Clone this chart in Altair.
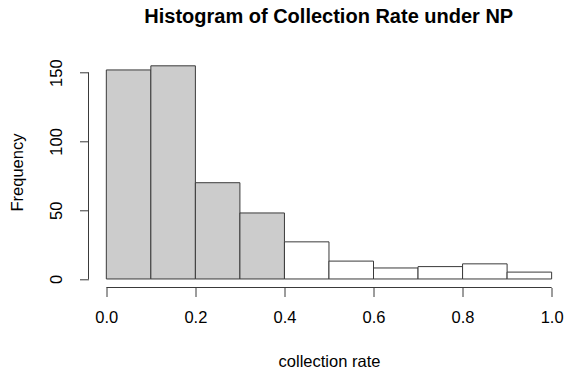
import altair as alt
import pandas as pd

# ---- data ----
bin_lo = [0.0, 0.1, 0.2, 0.3, 0.4, 0.5, 0.6, 0.7, 0.8, 0.9]
bin_hi = [0.1, 0.2, 0.3, 0.4, 0.5, 0.6, 0.7, 0.8, 0.9, 1.0]
counts = [152, 155, 70, 48, 27, 13, 8, 9, 11, 5]
shaded = ["yes", "yes", "yes", "yes", "no", "no", "no", "no", "no", "no"]
x_ticks = [0.0, 0.2, 0.4, 0.6, 0.8, 1.0]
y_ticks = [0, 50, 100, 150]

title_text = "Histogram of Collection Rate under NP"
x_title = "collection rate"
y_title = "Frequency"

df = pd.DataFrame({"lo": bin_lo, "hi": bin_hi, "count": counts, "shaded": shaded})
xaxis_df = pd.DataFrame({"a": [min(x_ticks)], "b": [max(x_ticks)]})
yaxis_df = pd.DataFrame({"a": [min(y_ticks)], "b": [max(y_ticks)]})

FONT = "Liberation Sans"
W = 476.5
H = 230.2
AX = "#3a3a3a"

xscale = alt.Scale(domain=[-0.04, 1.03], nice=False, zero=False)
yscale = alt.Scale(domain=[-6.2, 161.2], nice=False, zero=False)

x_axis = alt.Axis(
    values=x_ticks,
    format=".1f",
    domain=False,
    grid=False,
    tickSize=9,
    tickColor=AX,
    tickWidth=1,
    labelFont=FONT,
    labelFontSize=16.5,
    labelColor="black",
    labelPadding=13,
    labelFlush=False,
    labelOverlap=False,
    title=x_title,
    titleFont=FONT,
    titleFontSize=16.5,
    titleFontWeight="normal",
    titleColor="black",
    titleBaseline="alphabetic",
    titleX=240.5,
    titleY=79,
)

y_axis = alt.Axis(
    values=y_ticks,
    domain=False,
    grid=False,
    tickSize=9,
    tickColor=AX,
    tickWidth=1,
    labelFont=FONT,
    labelFontSize=16.5,
    labelColor="black",
    labelAngle=270,
    labelAlign="center",
    labelBaseline="alphabetic",
    labelPadding=18,
    labelFlush=False,
    labelOverlap=False,
    title=y_title,
    titleFont=FONT,
    titleFontSize=16.5,
    titleFontWeight="normal",
    titleColor="black",
    titleAngle=270,
    titleAlign="center",
    titleBaseline="alphabetic",
    titleX=-66,
    titleY=114.7,
)

bars = alt.Chart(df).mark_bar(stroke=AX, strokeWidth=1).encode(
    x=alt.X("lo:Q", scale=xscale, axis=x_axis),
    x2="hi:Q",
    y=alt.Y("count:Q", scale=yscale, axis=y_axis),
    y2=alt.datum(0),
    fill=alt.Color(
        "shaded:N",
        scale=alt.Scale(domain=["yes", "no"], range=["#cccccc", "#ffffff"]),
        legend=None,
    ),
)

x_line = alt.Chart(xaxis_df).mark_rule(color=AX, strokeWidth=1).encode(
    x=alt.X("a:Q", scale=xscale, axis=x_axis),
    x2="b:Q",
    y=alt.value(H),
)

y_line = alt.Chart(yaxis_df).mark_rule(color=AX, strokeWidth=1).encode(
    y=alt.Y("a:Q", scale=yscale, axis=y_axis),
    y2="b:Q",
    x=alt.value(0),
)

chart = (
    alt.layer(bars, x_line, y_line)
    .properties(
        width=W,
        height=H,
        title=alt.TitleParams(
            text=title_text,
            font=FONT,
            fontSize=20,
            fontWeight="bold",
            color="black",
            anchor="middle",
            baseline="alphabetic",
            offset=14,
            dx=2,
        ),
        autosize=alt.AutoSizeParams(type="none"),
        padding={"left": 88.5, "top": 57.3, "right": 0, "bottom": 82.5},
        background="white",
    )
    .configure_view(stroke=None)
)

chart.save("out.html", embed_options={"renderer": "svg", "actions": False})
